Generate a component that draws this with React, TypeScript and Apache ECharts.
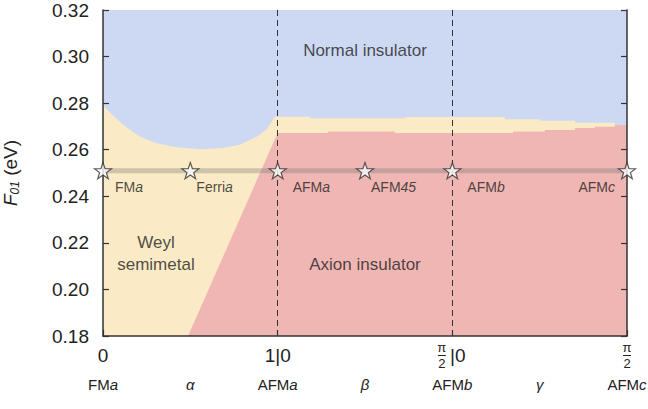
import React, { useEffect, useRef } from "react";
import * as echarts from "echarts";

// Phase boundaries along the magnetic-configuration path (x) versus F01 (eV)
const normalBoundary: [number, number][] = [
  [0, 0.2792], [0.05, 0.2752], [0.116, 0.2707], [0.212, 0.2656], [0.307, 0.2628],
  [0.422, 0.2611], [0.555, 0.2602], [0.689, 0.2607], [0.784, 0.2621], [0.88, 0.2656],
  [0.937, 0.2688], [0.985, 0.2742], [1, 0.2742], [1.185, 0.2742], [1.185, 0.2735],
  [1.729, 0.2735], [1.729, 0.2741], [2.301, 0.2741], [2.301, 0.2731], [2.501, 0.2731],
  [2.501, 0.2724], [2.702, 0.2724], [2.702, 0.2716], [2.931, 0.2716], [2.931, 0.2706],
  [3, 0.2706],
];
const axionBoundary: [number, number][] = [
  [0.487, 0.18], [1, 0.2672], [1.288, 0.2672], [1.288, 0.2678], [1.671, 0.2678],
  [1.671, 0.2672], [2.347, 0.2672], [2.347, 0.2678], [2.53, 0.2678], [2.53, 0.2685],
  [2.702, 0.2685], [2.702, 0.2693], [2.816, 0.2693], [2.816, 0.2699], [2.93, 0.2699],
  [2.93, 0.2706], [3, 0.2706],
];
const pathLevel = 0.251;
const starX = [0, 0.5, 1, 1.5, 2, 3];
const starNames = ["FM{i|a}", "Ferri{i|a}", "AFM{i|a}", "AFM{i|45}", "AFM{i|b}", "AFM{i|c}"];
const segmentBounds = [1, 2];
const mainTickLabels = ["0", "1|0", "π/2|0", "π/2"];
const pathTickLabels = ["FM{i|a}", "{i|α}", "AFM{i|a}", "{i|β}", "AFM{i|b}", "{i|γ}", "AFM{i|c}"];
const regionNames = ["Normal insulator", "Axion insulator", "Weyl\nsemimetal"];
const regionAnchors: [number, number][] = [[1.5, 0.3028], [1.5, 0.2105], [0.303, 0.2153]];

const STAR =
  "path://M0,-10L2.35,-3.24L9.51,-3.09L3.8,1.24L5.88,8.09L0,4L-5.88,8.09L-3.8,1.24L-9.51,-3.09L-2.35,-3.24Z";
const starLabelLayout: { dx: number; align: "left" | "right" }[] = [
  { dx: 12, align: "left" },
  { dx: 6, align: "left" },
  { dx: 15, align: "left" },
  { dx: 6, align: "left" },
  { dx: 15, align: "left" },
  { dx: -12, align: "right" },
];

const INK = "#222";
const AXIS = "#333";
const FONT = "Liberation Sans, Arial, sans-serif";

export default function App() {
  const ref = useRef<HTMLDivElement>(null);
  useEffect(() => {
    if (!ref.current) return;
    const chart = echarts.init(ref.current, undefined, { renderer: "svg" });
    const idx = (v: number, step: number) => Math.round(v / step);

    const baseX = { type: "value" as const, min: 0, max: 3, gridIndex: 0, position: "bottom" as const };
    const hiddenAxis = {
      axisLine: { show: false },
      axisTick: { show: false },
      splitLine: { show: false },
    };
    const fractionRich = {
      n: { fontSize: 13, lineHeight: 13, color: INK },
      b: { fontSize: 1, lineHeight: 3, width: 8, height: 1, backgroundColor: INK },
      d: { fontSize: 13, lineHeight: 13, color: INK },
    };
    // π/2 fraction under the tick; with a "|0" after it, the fraction sits left of the tick
    const fractionAxis = (withSuffix: boolean) => ({
      ...baseX,
      ...hiddenAxis,
      interval: 1,
      axisLabel: {
        margin: 5,
        padding: withSuffix ? [0, 21, 0, 0] : 0,
        color: INK,
        formatter: (v: number) => {
          const t = mainTickLabels[idx(v, 1)] ?? "";
          if (!t.includes("π/2")) return "";
          if ((t !== "π/2") !== withSuffix) return "";
          return "{n|π}\n{b| }\n{d|2}";
        },
        rich: fractionRich,
      },
    });

    const option: any = {
      animation: false,
      textStyle: { fontFamily: FONT },
      grid: { left: 103, right: 21, top: 10, bottom: 73, outerBoundsMode: "none", containLabel: false },
      xAxis: [
        {
          ...baseX,
          interval: 1,
          z: 10,
          axisLine: { onZero: false, lineStyle: { color: AXIS, width: 1.5 } },
          axisTick: { inside: true, length: 6, lineStyle: { color: AXIS, width: 1.2 } },
          splitLine: { show: false },
          axisLabel: {
            margin: 10,
            fontSize: 19,
            color: INK,
            formatter: (v: number) => {
              const t = mainTickLabels[idx(v, 1)] ?? "";
              const rest = t.replace("π/2", "");
              if (rest === "") return "";
              return rest.startsWith("|") ? "{r|" + rest + "}" : rest;
            },
            rich: { r: { fontSize: 19, color: INK, padding: [0, 0, 0, 11] } },
          },
        },
        fractionAxis(true),
        fractionAxis(false),
        {
          ...baseX,
          ...hiddenAxis,
          interval: 0.5,
          axisLabel: {
            margin: 41,
            fontSize: 15,
            color: INK,
            formatter: (v: number) => pathTickLabels[idx(v, 0.5)] ?? "",
            rich: { i: { fontStyle: "italic", fontSize: 15, color: INK } },
          },
        },
      ],
      yAxis: [
        {
          type: "value",
          position: "left",
          min: 0.18,
          max: 0.32,
          interval: 0.02,
          z: 10,
          axisLine: { show: true, onZero: false, lineStyle: { color: AXIS, width: 1.5 } },
          axisTick: { show: true, inside: true, length: 6, lineStyle: { color: AXIS, width: 1.2 } },
          splitLine: { show: false },
          axisLabel: {
            margin: 14,
            fontSize: 19,
            color: INK,
            formatter: (v: number) => v.toFixed(2),
          },
          name: "{f|F}{s|01} (eV)",
          nameLocation: "middle",
          nameGap: 82,
          nameRotate: 90,
          nameTextStyle: {
            fontSize: 19,
            color: INK,
            rich: {
              f: { fontSize: 19, fontStyle: "italic", color: INK },
              s: { fontSize: 12, fontStyle: "italic", color: INK, verticalAlign: "bottom", padding: [10, 0, 0, 0] },
            },
          },
        },
        {
          type: "value",
          position: "right",
          min: 0.18,
          max: 0.32,
          interval: 0.02,
          z: 10,
          axisLine: { show: true, onZero: false, lineStyle: { color: AXIS, width: 1.5 } },
          axisTick: { show: true, inside: true, length: 6, lineStyle: { color: AXIS, width: 1.2 } },
          axisLabel: { show: false },
          splitLine: { show: false },
        },
      ],
      series: [
        {
          name: "Normal insulator",
          type: "line",
          data: [[0, 0.32], [3, 0.32]],
          showSymbol: false,
          lineStyle: { width: 0 },
          areaStyle: { color: "#CDD8F3", opacity: 1, origin: "start" },
          z: 1,
        },
        {
          name: "Weyl semimetal",
          type: "line",
          data: normalBoundary,
          showSymbol: false,
          lineStyle: { width: 0 },
          areaStyle: { color: "#FAEAC5", opacity: 1, origin: "start" },
          z: 2,
        },
        {
          name: "Axion insulator",
          type: "line",
          data: axionBoundary,
          showSymbol: false,
          lineStyle: { width: 0 },
          areaStyle: { color: "#F0B6B3", opacity: 1, origin: "start" },
          z: 3,
          markLine: {
            silent: true,
            symbol: "none",
            label: { show: false },
            lineStyle: { color: AXIS, width: 1, type: [6, 4] },
            data: segmentBounds.map((x) => ({ xAxis: x })),
          },
        },
        {
          name: "path",
          type: "line",
          data: [[0, pathLevel], [3, pathLevel]],
          showSymbol: false,
          lineStyle: { width: 5, color: "rgba(120,120,120,0.35)" },
          z: 4,
        },
        {
          name: "configurations",
          type: "scatter",
          clip: false,
          z: 20,
          symbol: STAR,
          symbolSize: [17, 16],
          itemStyle: { color: "#fff", borderColor: AXIS, borderWidth: 1.2 },
          data: starX.map((x, i) => ({
            value: [x, pathLevel],
            label: {
              show: true,
              position: "inside",
              align: starLabelLayout[i].align,
              verticalAlign: "middle",
              offset: [starLabelLayout[i].dx, 16],
              formatter: starNames[i],
              fontSize: 14,
              color: INK,
              rich: { i: { fontStyle: "italic", fontSize: 14, color: INK } },
            },
          })),
        },
        {
          name: "phases",
          type: "scatter",
          symbolSize: 0,
          z: 15,
          silent: true,
          data: regionAnchors.map((p, i) => ({
            value: p,
            label: {
              show: true,
              position: "inside",
              formatter: regionNames[i],
              fontSize: 17,
              lineHeight: 22,
              color: INK,
            },
          })),
        },
      ],
    };
    chart.setOption(option);
    return () => chart.dispose();
  }, []);

  return (
    <div
      ref={ref}
      style={{ position: "fixed", left: 0, top: 0, width: 648, height: 409, background: "#fff" }}
    />
  );
}
